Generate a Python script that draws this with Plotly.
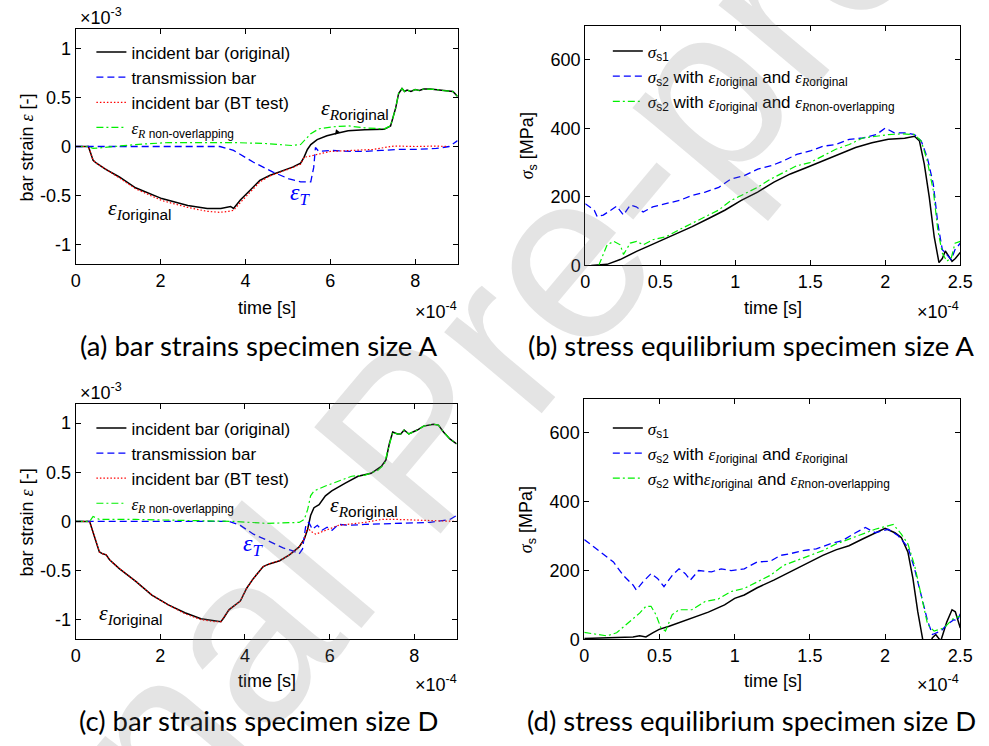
import plotly.graph_objects as go

W, H = 989, 746
SANS = "Liberation Sans, Arial, sans-serif"
SERIF = "Liberation Serif, serif"
CAPTION = "Lato, sans-serif"

# ---------------- (a) bar strains, specimen size A  (time in 1e-4 s, strain in 1e-3)
a_inc_t = [0, 0.3, 0.41, 0.49, 0.7, 1.03, 1.41, 2.03, 2.64, 3.1, 3.42, 3.55, 3.65, 3.72, 3.88, 4.11, 4.34, 4.57,
           4.88, 5.11, 5.3, 5.38, 5.46, 5.54, 5.69, 5.92, 6.11, 6.42, 6.81, 7.27, 7.42, 7.54, 7.61, 7.69, 7.75,
           7.81, 7.9, 8.0, 8.1, 8.2, 8.35, 8.5, 8.66, 8.8, 8.89, 9.0]
a_inc_v = [0, 0, -0.14, -0.17, -0.23, -0.31, -0.42, -0.53, -0.60, -0.63, -0.63, -0.62, -0.61, -0.63, -0.545,
           -0.445, -0.345, -0.295, -0.25, -0.21, -0.17, -0.11, -0.03, 0.02, 0.07, 0.11, 0.13, 0.16, 0.17, 0.175,
           0.21, 0.39, 0.54, 0.59, 0.56, 0.575, 0.56, 0.58, 0.57, 0.585, 0.585, 0.58, 0.57, 0.565, 0.56, 0.51]
a_tr_t = [0, 1, 2, 3, 3.4, 3.72, 4.19, 4.65, 5.03, 5.3, 5.54, 5.61, 5.65, 5.73, 6.04, 6.5, 6.81, 7.2, 7.58, 8.0,
          8.5, 8.8, 9.0]
a_tr_v = [0, 0, 0, 0, 0, -0.04, -0.16, -0.26, -0.33, -0.36, -0.36, -0.21, -0.01, -0.05, -0.04, -0.05, -0.05,
          -0.04, -0.03, -0.03, -0.02, 0.0, 0.06]
a_bt_t = [0, 0.3, 0.41, 0.49, 1.03, 1.41, 2.03, 2.64, 3.1, 3.4, 3.6, 3.72, 3.88, 4.11, 4.34, 4.57, 4.88, 5.11,
          5.3, 5.38, 5.5, 5.7, 6.0, 6.5, 7.0, 7.5, 8.0, 8.5, 8.75]
a_bt_v = [0, 0, -0.14, -0.17, -0.32, -0.43, -0.55, -0.62, -0.66, -0.67, -0.66, -0.65, -0.57, -0.46, -0.36,
          -0.30, -0.255, -0.215, -0.18, -0.11, -0.10, -0.08, -0.05, -0.04, -0.03, 0.005, 0.0, 0.005, 0.0]
a_rn_t = [0, 0.3, 0.41, 0.64, 1.0, 1.41, 2.18, 2.95, 3.72, 4.5, 5.1, 5.3, 5.42, 5.54, 5.73, 6.04, 6.42, 6.81,
          7.27, 7.42, 7.54, 7.61, 7.69, 7.75, 7.81, 7.9, 8.0, 8.1, 8.2, 8.35, 8.5, 8.66, 8.8, 8.89, 9.0]
a_rn_v = [0, 0, -0.02, -0.01, 0.0, 0.02, 0.04, 0.04, 0.04, 0.03, 0.01, 0.02, 0.07, 0.13, 0.18, 0.20, 0.21,
          0.19, 0.18, 0.21, 0.39, 0.54, 0.59, 0.56, 0.575, 0.56, 0.58, 0.57, 0.585, 0.585, 0.58, 0.57, 0.565,
          0.56, 0.51]

# ---------------- (b) stress equilibrium, specimen size A  (time in 1e-4 s, stress in MPa)
b_s1_t = [0.04, 0.146, 0.233, 0.277, 0.342, 0.41, 0.495, 0.604, 0.713, 0.822, 0.93, 1.04, 1.149, 1.258, 1.367,
          1.476, 1.585, 1.694, 1.802, 1.911, 2.02, 2.129, 2.195, 2.228, 2.26, 2.293, 2.326, 2.358, 2.38, 2.40,
          2.42, 2.445, 2.467, 2.5]
b_s1_v = [0, 3, 17, 27, 41, 54, 70, 92, 113, 137, 161, 190, 214, 243, 267, 286, 305, 324, 344, 358, 368, 371,
          377, 363, 296, 200, 84, 8, 20, 42, 30, 12, 20, 38]
b_s2o_t = [0, 0.06, 0.08, 0.12, 0.17, 0.21, 0.255, 0.3, 0.34, 0.386, 0.45, 0.54, 0.63, 0.71, 0.80, 0.89, 0.97,
           1.06, 1.15, 1.24, 1.32, 1.41, 1.50, 1.585, 1.67, 1.76, 1.85, 1.94, 2.0, 2.06, 2.13, 2.195, 2.24,
           2.28, 2.32, 2.35, 2.38, 2.40, 2.42, 2.44, 2.465, 2.5]
b_s2o_v = [180, 161, 142, 147, 161, 173, 147, 176, 171, 156, 171, 180, 190, 204, 214, 228, 252, 262, 281, 291,
           305, 324, 334, 348, 353, 368, 372, 382, 401, 387, 387, 382, 363, 315, 238, 123, 46, 36, 27, 17, 46, 65]
b_s2n_t = [0.09, 0.124, 0.146, 0.19, 0.233, 0.255, 0.3, 0.342, 0.386, 0.45, 0.54, 0.625, 0.71, 0.80, 0.887,
           0.974, 1.06, 1.149, 1.236, 1.323, 1.41, 1.497, 1.585, 1.67, 1.76, 1.85, 1.94, 2.02, 2.11, 2.195, 2.24,
           2.28, 2.32, 2.35, 2.38, 2.41, 2.44, 2.465, 2.5]
b_s2n_v = [0, 36, 60, 70, 60, 32, 65, 70, 60, 75, 84, 104, 123, 142, 161, 190, 209, 228, 252, 271, 291, 300,
           319, 339, 353, 372, 377, 382, 384, 382, 363, 305, 219, 104, 36, 12, 22, 65, 70]

# ---------------- (c) bar strains, specimen size D
c_inc_t = [0, 0.33, 0.41, 0.49, 0.56, 0.64, 0.72, 0.80, 1.03, 1.42, 1.80, 2.19, 2.58, 2.96, 3.27, 3.43, 3.50,
           3.62, 3.74, 3.89, 4.04, 4.2, 4.43, 4.59, 4.82, 5.05, 5.28, 5.40, 5.48, 5.55, 5.63, 5.75, 5.9, 6.05,
           6.37, 6.67, 6.98, 7.22, 7.33, 7.41, 7.49, 7.60, 7.68, 7.76, 7.87, 8.07, 8.22, 8.45, 8.57, 8.69, 8.84,
           9.0]
c_inc_v = [0, 0, -0.11, -0.23, -0.31, -0.33, -0.34, -0.39, -0.48, -0.61, -0.75, -0.85, -0.93, -0.99, -1.01,
           -1.02, -0.98, -0.90, -0.86, -0.81, -0.68, -0.58, -0.46, -0.43, -0.40, -0.34, -0.26, -0.18, -0.08,
           0.06, 0.14, 0.17, 0.26, 0.31, 0.39, 0.46, 0.49, 0.56, 0.625, 0.79, 0.91, 0.89, 0.89, 0.93, 0.89, 0.93,
           0.97, 0.99, 0.98, 0.91, 0.84, 0.79]
c_tr_t = [0, 1, 2, 3, 3.62, 3.89, 4.2, 4.51, 4.9, 5.13, 5.28, 5.36, 5.44, 5.51, 5.59, 5.71, 5.82, 5.94, 6.06,
          6.21, 6.44, 6.83, 7.6, 8.38, 8.84, 9.0]
c_tr_v = [0, 0, 0, 0, 0, -0.04, -0.13, -0.19, -0.27, -0.30, -0.33, -0.28, -0.03, -0.01, -0.08, -0.04, -0.09,
          -0.06, -0.09, -0.03, -0.04, -0.03, -0.02, -0.01, 0.02, 0.06]
c_bt_t = [0, 0.33, 0.41, 0.49, 0.56, 0.64, 0.72, 0.80, 1.03, 1.42, 1.80, 2.19, 2.58, 2.96, 3.27, 3.43, 3.50,
          3.62, 3.74, 3.89, 4.04, 4.2, 4.43, 4.59, 4.82, 5.05, 5.28, 5.40, 5.48, 5.55, 5.67, 5.9, 6.21, 6.83,
          7.22, 7.6, 8.38, 9.0]
c_bt_v = [0, 0, -0.11, -0.23, -0.31, -0.33, -0.34, -0.39, -0.48, -0.61, -0.75, -0.85, -0.94, -1.0, -1.02,
          -1.02, -0.98, -0.90, -0.86, -0.81, -0.68, -0.58, -0.46, -0.43, -0.40, -0.34, -0.26, -0.18, -0.06,
          -0.10, -0.13, -0.09, -0.04, -0.01, 0.02, 0.02, 0.007, 0.0]
c_rn_t = [0, 0.33, 0.41, 0.49, 0.56, 1.42, 2.96, 3.74, 4.51, 5.28, 5.40, 5.48, 5.55, 5.63, 5.9, 6.21, 6.52,
          6.83, 7.14, 7.29, 7.41, 7.49, 7.60, 7.68, 7.76, 7.87, 8.07, 8.22, 8.45, 8.57, 8.69, 8.84, 9.0]
c_rn_v = [0, 0, 0.05, 0.03, 0.02, 0.02, 0.01, 0.0, -0.02, -0.01, 0.02, 0.12, 0.26, 0.31, 0.36, 0.41, 0.46,
          0.47, 0.52, 0.58, 0.79, 0.91, 0.89, 0.89, 0.93, 0.89, 0.93, 0.97, 0.99, 0.98, 0.91, 0.84, 0.79]

# ---------------- (d) stress equilibrium, specimen size D
d_s1_t = [0, 0.063, 0.237, 0.324, 0.368, 0.41, 0.455, 0.498, 0.564, 0.63, 0.716, 0.825, 0.933, 1.0, 1.064,
          1.15, 1.26, 1.325, 1.412, 1.50, 1.586, 1.673, 1.76, 1.847, 1.934, 2.0, 2.065, 2.108, 2.152, 2.185,
          2.217, 2.25, 2.28, 2.315, 2.337, 2.37, 2.41, 2.445, 2.467, 2.49, 2.5]
d_s1_v = [2, 3, 5, 7, 10, 7, 19, 29, 38, 48, 62, 79, 100, 119, 129, 150, 172, 186, 205, 225, 244, 260, 272,
          291, 310, 323, 310, 296, 253, 177, 81, 0, -30, 5, 14, -5, 50, 86, 80, 50, 33]
d_s2o_t = [0, 0.063, 0.128, 0.194, 0.259, 0.324, 0.346, 0.39, 0.444, 0.487, 0.53, 0.585, 0.63, 0.672, 0.705,
           0.76, 0.846, 0.91, 0.977, 1.064, 1.15, 1.237, 1.303, 1.369, 1.456, 1.543, 1.63, 1.717, 1.804, 1.869,
           1.934, 2.02, 2.087, 2.152, 2.196, 2.24, 2.283, 2.315, 2.37, 2.413, 2.457, 2.479, 2.5]
d_s2o_v = [290, 268, 248, 225, 186, 158, 143, 167, 191, 177, 153, 186, 205, 191, 172, 200, 196, 205, 200, 205,
           225, 227, 244, 249, 258, 263, 277, 287, 310, 325, 310, 320, 301, 268, 205, 129, 53, 14, 24, 43, 57,
           53, 74]
d_s2n_t = [0, 0.063, 0.15, 0.215, 0.28, 0.324, 0.368, 0.41, 0.444, 0.476, 0.51, 0.54, 0.585, 0.63, 0.716,
           0.803, 0.89, 0.977, 1.064, 1.15, 1.237, 1.325, 1.412, 1.5, 1.586, 1.673, 1.76, 1.847, 1.934, 2.02,
           2.054, 2.108, 2.152, 2.196, 2.24, 2.283, 2.326, 2.392, 2.457, 2.5]
d_s2n_v = [20, 16, 10, 19, 43, 62, 76, 96, 96, 72, 33, 24, 72, 86, 86, 110, 117, 139, 148, 167, 186, 215, 229,
           244, 258, 277, 291, 306, 320, 330, 334, 306, 277, 215, 129, 43, 24, 33, 62, 67]

# tick labels
strain_ticks = [-1, -0.5, 0, 0.5, 1]
strain_ticktext = ["-1", "-0.5", "0", "0.5", "1"]
time_ticks_long = [0, 2, 4, 6, 8]
time_ticks_short = [0, 0.5, 1, 1.5, 2, 2.5]
stress_ticks = [0, 200, 400, 600]


def px(x, y):
    return x / W, 1 - y / H


def sym(s):
    return f'<span style="font-family:{SERIF}"><i>{s}</i></span>'


def eps(sub_sym, sub_txt):
    return f'{sym("ε")}<sub>{sym(sub_sym)}{sub_txt}</sub>'


BLACK = dict(color="black", width=1.5)
BLUE = dict(color="#0000ff", width=1.3, dash="7px,4px")
RED = dict(color="#ff0000", width=1.2, dash="1.5px,2px")
GREEN = dict(color="#00f000", width=1.2, dash="7px,3px,2px,3px")

fig = go.Figure()


def add(x, y, line, name, xa, ya, legend, group):
    fig.add_trace(go.Scatter(x=x, y=y, mode="lines", line=line, name=name, xaxis=xa, yaxis=ya,
                             legend=legend, legendgroup=group))


strain_names = ["incident bar (original)", "transmission bar", "incident bar (BT test)",
                eps("R", " non-overlapping")]
stress_s1 = f'{sym("σ")}<sub>s1</sub>'
stress_s2o = f'{sym("σ")}<sub>s2</sub> with {eps("I", "original")} and {eps("R", "original")}'
stress_s2n_b = f'{sym("σ")}<sub>s2</sub> with {eps("I", "original")} and {eps("R", "non-overlapping")}'
stress_s2n_d = f'{sym("σ")}<sub>s2</sub> with{eps("I", "original")} and {eps("R", "non-overlapping")}'

add(a_inc_t, a_inc_v, BLACK, strain_names[0], "x", "y", "legend", "a")
add(a_tr_t, a_tr_v, BLUE, strain_names[1], "x", "y", "legend", "a")
add(a_bt_t, a_bt_v, RED, strain_names[2], "x", "y", "legend", "a")
add(a_rn_t, a_rn_v, GREEN, strain_names[3], "x", "y", "legend", "a")

add(b_s1_t, b_s1_v, BLACK, stress_s1, "x2", "y2", "legend2", "b1")
add(b_s2o_t, b_s2o_v, BLUE, stress_s2o, "x2", "y2", "legend2", "b2")
add(b_s2n_t, b_s2n_v, GREEN, stress_s2n_b, "x2", "y2", "legend2", "b3")

add(c_inc_t, c_inc_v, BLACK, strain_names[0], "x3", "y3", "legend3", "c")
add(c_tr_t, c_tr_v, BLUE, strain_names[1], "x3", "y3", "legend3", "c")
add(c_bt_t, c_bt_v, RED, strain_names[2], "x3", "y3", "legend3", "c")
add(c_rn_t, c_rn_v, GREEN, strain_names[3], "x3", "y3", "legend3", "c")

add(d_s1_t, d_s1_v, BLACK, stress_s1, "x4", "y4", "legend4", "d1")
add(d_s2o_t, d_s2o_v, BLUE, stress_s2o, "x4", "y4", "legend4", "d2")
add(d_s2n_t, d_s2n_v, GREEN, stress_s2n_d, "x4", "y4", "legend4", "d3")

axis_style = dict(showline=True, linecolor="black", linewidth=1, mirror="ticks", ticks="inside", ticklen=5,
                  tickwidth=1, tickcolor="black", showgrid=False, zeroline=False,
                  tickfont=dict(family=SANS, size=18, color="black"))


def xdom(l, r):
    return [l / W, r / W]


def ydom(t, b):
    return [1 - b / H, 1 - t / H]


layout_axes = dict(
    xaxis=dict(domain=xdom(72, 461), range=[0, 9], tickvals=time_ticks_long, anchor="y", **axis_style),
    yaxis=dict(domain=ydom(29, 268), range=[-1.2, 1.2], tickvals=strain_ticks, ticktext=strain_ticktext,
               anchor="x", **axis_style),
    xaxis2=dict(domain=xdom(591, 973), range=[0, 2.5], tickvals=time_ticks_short, anchor="y2", **axis_style),
    yaxis2=dict(domain=ydom(26, 269), range=[0, 700], tickvals=stress_ticks, anchor="x2", **axis_style),
    xaxis3=dict(domain=xdom(72, 460), range=[0, 9], tickvals=time_ticks_long, anchor="y3", **axis_style),
    yaxis3=dict(domain=ydom(409, 648), range=[-1.2, 1.2], tickvals=strain_ticks, ticktext=strain_ticktext,
                anchor="x3", **axis_style),
    xaxis4=dict(domain=xdom(590, 973), range=[0, 2.5], tickvals=time_ticks_short, anchor="y4", **axis_style),
    yaxis4=dict(domain=ydom(404, 648), range=[0, 700], tickvals=stress_ticks, anchor="x4", **axis_style),
)


def legend_at(x, y, gap):
    lx, ly = px(x, y)
    return dict(x=lx, y=ly, xanchor="left", yanchor="top", bgcolor="rgba(0,0,0,0)", borderwidth=0,
                font=dict(family=SANS, size=17, color="black"), tracegroupgap=gap, itemwidth=30)


annotations = []


def text(x, y, s, size=18, xanchor="center", yanchor="middle", angle=0, family=SANS, color="black"):
    ax_, ay_ = px(x, y)
    annotations.append(dict(x=ax_, y=ay_, xref="paper", yref="paper", text=s, showarrow=False,
                            xanchor=xanchor, yanchor=yanchor, textangle=angle,
                            font=dict(family=family, size=size, color=color)))


# axis titles, exponent labels and captions
for yc, exp_y, mid_y, cap in [(312, 17, 150, "(a) bar strains specimen size A"),
                              (690, 397, 530, "(c) bar strains specimen size D")]:
    text(267, yc, "time [s]")
    text(22, mid_y, "bar strain " + sym("ε") + " [-]", angle=-90)
    text(74, exp_y, "×10<sup>-3</sup>", xanchor="left")
    text(462, yc + 3, "×10<sup>-4</sup>", xanchor="right")
    text(258, yc + 38 + (0 if yc < 400 else 2), cap, size=27.5, family=CAPTION)

for yc, mid_y, cap in [(312, 148, "(b) stress equilibrium specimen size A"),
                       (690, 527, "(d) stress equilibrium specimen size D")]:
    text(782, yc, "time [s]")
    text(533, mid_y, sym("σ") + "<sub>s</sub> [MPa]", angle=-90)
    text(974, yc + 3, "×10<sup>-4</sup>", xanchor="right")
    text(760, yc + 38 + (0 if yc < 400 else 2), cap, size=27.5, family=CAPTION)


def data_note(xr, yr, x, y, s, color="black", size=22, arrow=None):
    d = dict(x=x, y=y, xref=xr, yref=yr, text=s, font=dict(family=SANS, size=size, color=color),
             xanchor="center", yanchor="middle")
    if arrow:
        d.update(showarrow=True, ax=arrow[0], ay=arrow[1], axref="pixel", ayref="pixel", arrowhead=2,
                 arrowsize=1, arrowwidth=1, arrowcolor="black", standoff=0, startstandoff=10)
    else:
        d["showarrow"] = False
    annotations.append(d)


data_note("x", "y", 6.11, 0.12, eps("R", "original"), arrow=(20, -26))
data_note("x", "y", 5.28, -0.48, eps("T", ""), color="#0000ff", size=24)
data_note("x", "y", 1.5, -0.64, eps("I", "original"))
data_note("x3", "y3", 4.18, -0.24, eps("T", ""), color="#0000ff", size=24)
data_note("x3", "y3", 6.82, 0.16, eps("R", "original"))
data_note("x3", "y3", 1.3, -0.94, eps("I", "original"))

# diagonal watermark
wx, wy = px(415, 444)
annotations.append(dict(x=wx, y=wy, xref="paper", yref="paper", text="Journal Pre-proof", showarrow=False,
                        textangle=-50, xanchor="center", yanchor="middle",
                        font=dict(family=SANS, size=240, color="rgba(120,120,120,0.2)")))

fig.update_layout(
    width=W, height=H, margin=dict(l=0, r=0, t=0, b=0), paper_bgcolor="white", plot_bgcolor="white",
    showlegend=True,
    legend=legend_at(88, 35, 0),
    legend2=legend_at(614, 34, 0),
    legend3=legend_at(88, 416, 0),
    legend4=legend_at(614, 416, 0),
    annotations=annotations,
    **layout_axes,
)

fig.write_html("out.html")
